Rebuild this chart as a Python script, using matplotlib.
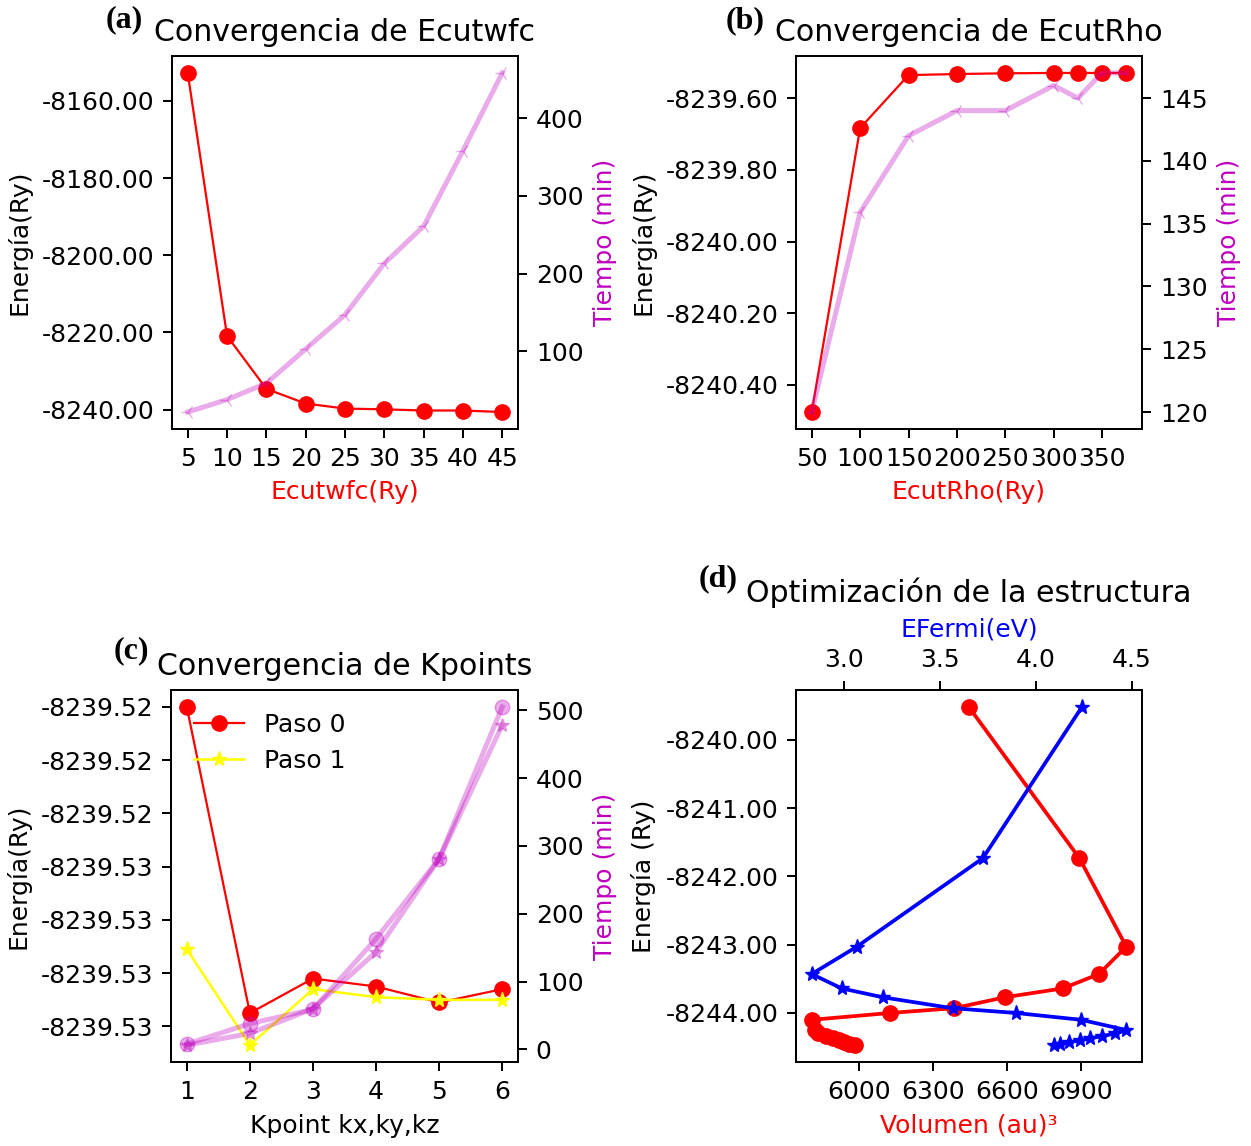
import matplotlib
matplotlib.use("Agg")
import matplotlib.pyplot as plt
from matplotlib.ticker import FormatStrFormatter, MultipleLocator

# (a) convergencia de Ecutwfc
ecutwfc = [5, 10, 15, 20, 25, 30, 35, 40, 45]
e_wfc = [-8152.8, -8220.9, -8234.6, -8238.4, -8239.7, -8239.9, -8240.2, -8240.2, -8240.6]
t_wfc = [22, 38, 59, 103, 147, 213, 261, 358, 458]

# (b) convergencia de EcutRho
ecutrho = [50, 100, 150, 200, 250, 300, 325, 350, 375]
e_rho = [-8240.476, -8239.683, -8239.535, -8239.532, -8239.530, -8239.529, -8239.529, -8239.529, -8239.529]
t_rho = [120.0, 135.9, 142.0, 144.0, 144.0, 146.0, 145.0, 147.0, 147.0]

# (c) convergencia de Kpoints
kpts = [1, 2, 3, 4, 5, 6]
e_paso0 = [-8239.5200, -8239.5315, -8239.5302, -8239.5305, -8239.5311, -8239.5306]
e_paso1 = [-8239.5291, -8239.5327, -8239.5306, -8239.5309, -8239.5310, -8239.5310]
t_paso0 = [7.8, 38, 59, 163, 281, 505]
t_paso1 = [6.3, 23.5, 60, 143.5, 281, 478]

# (d) optimizacion de la estructura
volumen = [6444, 6893, 7083, 6972, 6826, 6590, 6385, 6124, 5807,
           5822, 5833, 5865, 5893, 5919, 5938, 5958, 5983]
energia = [-8239.52, -8241.735, -8243.03, -8243.43, -8243.64, -8243.77, -8243.93, -8244.00, -8244.10,
           -8244.25, -8244.30, -8244.34, -8244.37, -8244.40, -8244.43, -8244.46, -8244.47]
efermi = [4.239, 3.722, 3.065, 2.830, 2.986, 3.200, 3.564, 3.895, 4.235,
          4.470, 4.413, 4.343, 4.282, 4.230, 4.169, 4.126, 4.091]

plt.rcParams.update({
    "font.size": 18,
    "axes.linewidth": 1.44,
    "xtick.major.width": 1.44,
    "ytick.major.width": 1.44,
    "xtick.major.size": 6.5,
    "ytick.major.size": 6.5,
    "xtick.major.pad": 6.3,
    "ytick.major.pad": 6.3,
    "axes.titlesize": 21.6,
    "axes.titlepad": 10.8,
    "axes.labelpad": 7,
})

W, H = 1251, 1146
fig = plt.figure(figsize=(W / 100, H / 100), dpi=100)


def box(x0, y0, x1, y1):
    return [x0 / W, 1 - y1 / H, (x1 - x0) / W, (y1 - y0) / H]


def etiqueta(texto, x, y):
    fig.text(x / W, 1 - y / H, texto, fontsize=23, fontweight="bold",
             family="Liberation Serif", va="center", ha="left")


tiempo_kw = dict(color="m", alpha=0.33, linewidth=3.6, markersize=10.5)

# ---- (a)
ax = fig.add_axes(box(172, 56, 518, 429))
ax.plot(ecutwfc, e_wfc, "r-o", linewidth=1.6, markersize=11)
ax.set_xticks(ecutwfc)
ax.yaxis.set_major_locator(MultipleLocator(20))
ax.yaxis.set_major_formatter(FormatStrFormatter("%.2f"))
ax.set_xlabel("Ecutwfc(Ry)", color="r")
ax.set_ylabel("Energía(Ry)")
ax.set_title("Convergencia de Ecutwfc")
ax2 = ax.twinx()
ax2.plot(ecutwfc, t_wfc, marker="3", **tiempo_kw)
ax2.yaxis.set_major_locator(MultipleLocator(100))
ax2.set_ylabel("Tiempo (min)", color="m")
etiqueta("(a)", 106, 20)

# ---- (b)
ax = fig.add_axes(box(796, 56, 1142, 429))
ax.plot(ecutrho, e_rho, "r-o", linewidth=1.6, markersize=11)
ax.xaxis.set_major_locator(MultipleLocator(50))
ax.yaxis.set_major_locator(MultipleLocator(0.2))
ax.yaxis.set_major_formatter(FormatStrFormatter("%.2f"))
ax.set_xlabel("EcutRho(Ry)", color="r")
ax.set_ylabel("Energía(Ry)")
ax.set_title("Convergencia de EcutRho")
ax2 = ax.twinx()
ax2.plot(ecutrho, t_rho, marker="3", **tiempo_kw)
ax2.yaxis.set_major_locator(MultipleLocator(5))
ax2.set_ylabel("Tiempo (min)", color="m")
etiqueta("(b)", 726, 21)

# ---- (c)
ax = fig.add_axes(box(171, 690, 518, 1062))
ax.plot(kpts, e_paso0, "r-o", linewidth=1.6, markersize=11, label="Paso 0")
ax.plot(kpts, e_paso1, "-*", color="yellow", linewidth=1.8, markersize=11, label="Paso 1")
ax.set_xticks(kpts)
ax.yaxis.set_major_locator(MultipleLocator(0.002))
ax.yaxis.set_major_formatter(FormatStrFormatter("%.2f"))
ax.set_xlabel("Kpoint kx,ky,kz")
ax.set_ylabel("Energía(Ry)")
ax.set_title("Convergencia de Kpoints")
ax.legend(loc="upper left", frameon=False)
ax2 = ax.twinx()
ax2.plot(kpts, t_paso0, marker="o", **tiempo_kw)
ax2.plot(kpts, t_paso1, marker="*", **tiempo_kw)
ax2.yaxis.set_major_locator(MultipleLocator(100))
ax2.set_ylabel("Tiempo (min)", color="m")
etiqueta("(c)", 114, 651)

# ---- (d)
ax = fig.add_axes(box(796, 690, 1142, 1062))
ax.plot(volumen, energia, "r-o", linewidth=2.7, markersize=11)
ax.xaxis.set_major_locator(MultipleLocator(300))
ax.yaxis.set_major_locator(MultipleLocator(1))
ax.yaxis.set_major_formatter(FormatStrFormatter("%.2f"))
ax.set_xlabel("Volumen (au)³", color="r")
ax.set_ylabel("Energía (Ry)")
ax2 = ax.twiny()
ax2.plot(efermi, energia, "b-*", linewidth=2.7, markersize=11)
ax2.xaxis.set_major_locator(MultipleLocator(0.5))
ax2.set_xlabel("EFermi(eV)", color="b")
ax2.xaxis.labelpad = 8.5
ax.set_title("Optimización de la estructura")
etiqueta("(d)", 699, 579)

fig.savefig("out.png", dpi=100)
